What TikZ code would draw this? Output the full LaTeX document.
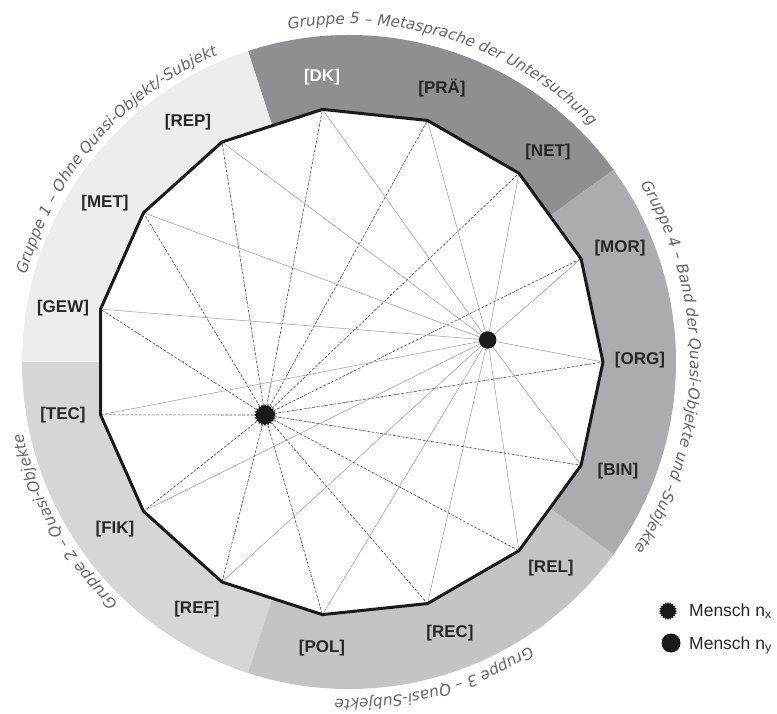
\documentclass[tikz,border=0pt]{standalone}
\usepackage{fontspec}
\setmainfont{Liberation Sans}
\newfontfamily\grpfont{DejaVu Sans}
\usetikzlibrary{shapes.geometric,decorations.text}
\definecolor{gA}{HTML}{EDEDED}
\definecolor{gB}{HTML}{D6D6D6}
\definecolor{gC}{HTML}{C4C4C4}
\definecolor{gD}{HTML}{ACACAE}
\definecolor{gE}{HTML}{8F8F91}
\definecolor{lbl}{HTML}{262626}
\definecolor{grptxt}{HTML}{656565}
\definecolor{dashc}{HTML}{4A4A4A}
\definecolor{solc}{HTML}{9A9A9A}
\definecolor{ink}{HTML}{1A1A1A}
\begin{document}
\begin{tikzpicture}[x=1pt,y=1pt,
  lab/.style={font=\fontsize{17}{20}\selectfont\bfseries, text=lbl, inner sep=0pt},
  dline/.style={draw=dashc, line width=0.6pt, dash pattern=on 2.8pt off 1.5pt},
  sline/.style={draw=solc, line width=0.5pt},
  border/.style={draw=ink, line width=3pt, line join=miter},
  starmark/.style={star, star points=20, star point ratio=1.25, inner sep=0pt, fill=ink, draw=none},
  dotmark/.style={circle, inner sep=0pt, fill=ink, draw=none},
  legtext/.style={anchor=base west, font=\fontsize{17.5}{20}\selectfont, text=lbl, inner sep=0pt},
]
\useasboundingbox (-349,-351) rectangle (428,362);
% group sectors
\fill[gE] (0,0) -- (36:327pt) arc[start angle=36,end angle=108,radius=327pt] -- cycle;
\fill[gA] (0,0) -- (108:327pt) arc[start angle=108,end angle=180,radius=327pt] -- cycle;
\fill[gB] (0,0) -- (180:327pt) arc[start angle=180,end angle=252,radius=327pt] -- cycle;
\fill[gC] (0,0) -- (252:327pt) arc[start angle=252,end angle=324,radius=327pt] -- cycle;
\fill[gD] (0,0) -- (324:327pt) arc[start angle=324,end angle=396,radius=327pt] -- cycle;
% vertices
\foreach \n/\a in {ORG/0,MOR/24,NET/48,PRA/72,DK/96,REP/120,MET/144,GEW/168,TEC/192,FIK/216,REF/240,POL/264,REC/288,REL/312,BIN/336}
  \coordinate (v\n) at (\a:254pt);
\fill[white] (vORG) -- (vMOR) -- (vNET) -- (vPRA) -- (vDK) -- (vREP) -- (vMET) -- (vGEW) -- (vTEC) -- (vFIK) -- (vREF) -- (vPOL) -- (vREC) -- (vREL) -- (vBIN) -- cycle;
% persons
\node[starmark, minimum size=22pt] (nx) at (-84,-53) {};
\node[dotmark, minimum size=17.5pt] (ny) at (138.7,22) {};
\foreach \n in {ORG,MOR,NET,PRA,DK,REP,MET,GEW,TEC,FIK,REF,POL,REC,REL,BIN} {
  \draw[sline] (ny) -- (v\n);
  \draw[dline] (nx) -- (v\n);
}
\draw[border] (vORG) -- (vMOR) -- (vNET) -- (vPRA) -- (vDK) -- (vREP) -- (vMET) -- (vGEW) -- (vTEC) -- (vFIK) -- (vREF) -- (vPOL) -- (vREC) -- (vREL) -- (vBIN) -- cycle;
% labels
\node[lab, text=white] (lDK) at (-27,285) {[DK]};
\node[lab] (lPRA) at (93,274) {[PRÄ]};
\node[lab] (lNET) at (199,210) {[NET]};
\node[lab] (lMOR) at (271,114) {[MOR]};
\node[lab] (lORG) at (291,2) {[ORG]};
\node[lab] (lBIN) at (269,-109) {[BIN]};
\node[lab] (lREL) at (202,-206) {[REL]};
\node[lab] (lREC) at (101,-271) {[REC]};
\node[lab] (lPOL) at (-27,-286) {[POL]};
\node[lab] (lREF) at (-152,-247) {[REF]};
\node[lab] (lFIK) at (-234,-167) {[FIK]};
\node[lab] (lTEC) at (-286,-53) {[TEC]};
\node[lab] (lGEW) at (-286,54) {[GEW]};
\node[lab] (lMET) at (-244,159) {[MET]};
\node[lab] (lREP) at (-161,240) {[REP]};
% group texts along the circle
\path[decorate, decoration={text along path, text align=center,
  text={|\grpfont\itshape\fontsize{15.3}{18}\selectfont\color{grptxt}|Gruppe 5 – Metasprache der Untersuchung}}]
  (117.3:338pt) arc[start angle=117.3, end angle=27.3, radius=338pt];
\path[decorate, decoration={text along path, text align=center,
  text={|\grpfont\itshape\fontsize{15.3}{18}\selectfont\color{grptxt}|Gruppe 1 – Ohne Quasi-Objekt/-Subjekt}}]
  (184:334pt) arc[start angle=184, end angle=94, radius=334pt];
\path[decorate, decoration={text along path, text align=center,
  text={|\grpfont\itshape\fontsize{15.3}{18}\selectfont\color{grptxt}|Gruppe 4 – Band der Quasi-Objekte und –Subjekte}}]
  (44:341pt) arc[start angle=44, end angle=-46, radius=341pt];
\path[decorate, decoration={text along path, text align=center,
  text={|\grpfont\itshape\fontsize{15.3}{18}\selectfont\color{grptxt}|Gruppe 3 – Quasi-Subjekte}}]
  (-30:337pt) arc[start angle=-30, end angle=-120, radius=337pt];
\path[decorate, decoration={text along path, text align=center,
  text={|\grpfont\itshape\fontsize{15.3}{18}\selectfont\color{grptxt}|Gruppe 2 – Quasi-Objekte}}]
  (254.3:334pt) arc[start angle=254.3, end angle=164.3, radius=334pt];
% legend
\node[starmark, minimum size=18pt] (kx) at (319,-249) {};
\node[dotmark, minimum size=19pt] (ky) at (322,-281) {};
\node[legtext] (tx) at (340,-254) {Mensch n\textsubscript{x}};
\node[legtext] (ty) at (340,-287) {Mensch n\textsubscript{y}};
\end{tikzpicture}
\end{document}
